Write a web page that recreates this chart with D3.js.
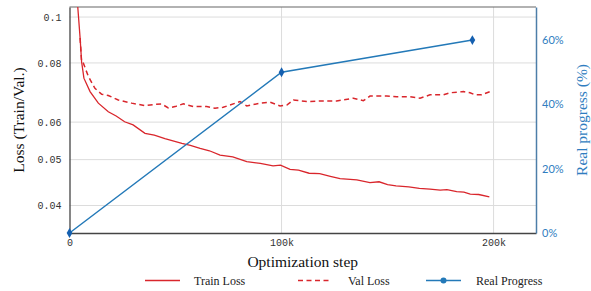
<!DOCTYPE html>
<html>
<head>
<meta charset="utf-8">
<script src="https://cdn.jsdelivr.net/npm/d3@7"></script>
<style>
  body { margin: 0; background: #fff; }
  .grid line { stroke: #dcdcdc; stroke-width: 1; }
  .ax text { font-family: "Liberation Mono", monospace; font-size: 10px; fill: #333; }
  .ax path { stroke: #444; }
  .axR text { font-family: Lato, sans-serif; font-size: 11px; fill: #2f7dc0; }
  .axR path { stroke: #4d7ea8; stroke-width: 1.5; }
  .title { font-family: "Liberation Serif", serif; font-size: 15.5px; }
  .leg { font-family: "Liberation Serif", serif; font-size: 12px; fill: #222; }
</style>
</head>
<body>
<svg id="chart"></svg>
<script>
// train loss (steps in k)
const trainStep = [3.0, 3.9, 5, 5.7, 6.8, 9.7, 13.6, 18.3, 22, 26, 30, 35.6, 40, 45, 53, 57, 61.6, 66, 71, 77, 83.6, 90, 96, 99.5, 104, 108, 113, 118, 123, 127.6, 135.5, 141.7, 146, 150, 154, 160, 165, 170, 174.8, 178, 182.6, 186, 189, 193, 198];
const trainLoss = [0.14, 0.105, 0.0903, 0.0805, 0.0743, 0.0696, 0.0658, 0.0631, 0.0618, 0.0601, 0.0592, 0.0568, 0.0563, 0.0554, 0.0541, 0.0536, 0.0528, 0.0522, 0.0511, 0.0507, 0.0495, 0.0491, 0.0485, 0.0487, 0.0477, 0.0475, 0.0468, 0.0467, 0.0461, 0.0456, 0.0453, 0.0447, 0.0449, 0.0443, 0.0440, 0.0438, 0.0435, 0.0433, 0.0431, 0.0432, 0.0428, 0.0427, 0.0423, 0.0422, 0.0417];

const valStep = [5, 5.7, 6.5, 8.9, 12.0, 15.2, 18.3, 23.0, 29.3, 35.6, 40.3, 43.5, 46.6, 49.8, 53.7, 58.4, 64.7, 68.6, 72.5, 75.7, 80.4, 83.6, 89.9, 94.6, 99.3, 102.5, 105.6, 111.9, 118.2, 126.0, 133.9, 138.6, 141.7, 149.6, 154.3, 160.6, 165.3, 170.0, 176.3, 179.5, 185.8, 188.9, 191.3, 194.4, 198.3];
const valLoss = [0.0903, 0.0805, 0.080, 0.0749, 0.0707, 0.0687, 0.0683, 0.0668, 0.0658, 0.0650, 0.0654, 0.0655, 0.0643, 0.0647, 0.0656, 0.0647, 0.0647, 0.0642, 0.0645, 0.0652, 0.0663, 0.0649, 0.0658, 0.0661, 0.0649, 0.0652, 0.0668, 0.0663, 0.0665, 0.0665, 0.0674, 0.0666, 0.0681, 0.0681, 0.0679, 0.0679, 0.0674, 0.0685, 0.0685, 0.0692, 0.0696, 0.0692, 0.0685, 0.0685, 0.0696];

const progStep = [0, 100, 190];
const progPct = [0, 50, 60];

const yTicks = [0.04, 0.05, 0.06, 0.08, 0.1];
const yLabels = ["0.04", "0.05", "0.06", "0.08", "0.1"];
const xTicks = [0, 100, 200];
const xLabels = ["0", "100k", "200k"];
const rTicks = [0, 20, 40, 60];
const rLabels = ["0%", "20%", "40%", "60%"];

const red = "#d9262c", blue = "#2379b8";

const W = 591, H = 291;
const margin = { top: 7, left: 69.5, right: 55, bottom: 58 };
const width = W - margin.left - margin.right;
const height = H - margin.top - margin.bottom;

const svg = d3.select("#chart").attr("width", W).attr("height", H);
const g = svg.append("g").attr("transform", `translate(${margin.left},${margin.top})`);

const x = d3.scaleLinear().domain([0, 220]).range([0, width]);
const y = d3.scaleLog().domain([0.035, 0.105]).range([height, 0]);
const yR = d3.scaleLinear().domain([0, 70.3]).range([height, 0]);

svg.append("defs").append("clipPath").attr("id", "clip")
  .append("rect").attr("width", width).attr("height", height);

// grid
g.append("g").attr("class", "grid")
  .selectAll("line").data(yTicks).join("line")
    .attr("x1", 0).attr("x2", width)
    .attr("y1", d => y(d)).attr("y2", d => y(d));
g.append("g").attr("class", "grid")
  .selectAll("line").data(xTicks.slice(1)).join("line")
    .attr("x1", d => x(d)).attr("x2", d => x(d))
    .attr("y1", 0).attr("y2", height);

// top frame
g.append("line").attr("x1", 0).attr("x2", width).attr("y1", 0).attr("y2", 0)
  .attr("stroke", "#666").attr("stroke-width", 1.2);

// axes
g.append("g").attr("class", "ax")
  .call(d3.axisLeft(y).tickValues(yTicks).tickFormat((d, i) => yLabels[i]).tickSize(0).tickPadding(8))
  .call(a => a.select(".domain").attr("stroke-width", 1.3));
g.append("g").attr("class", "ax").attr("transform", `translate(0,${height})`)
  .call(d3.axisBottom(x).tickValues(xTicks).tickFormat((d, i) => xLabels[i]).tickSize(0).tickPadding(6))
  .call(a => a.select(".domain").attr("stroke-width", 1.3));
g.append("g").attr("class", "axR").attr("transform", `translate(${width},0)`)
  .call(d3.axisRight(yR).tickValues(rTicks).tickFormat((d, i) => rLabels[i]).tickSize(0).tickPadding(6));

// lines
const trainData = trainStep.map((s, i) => [s, trainLoss[i]]);
const valData = valStep.map((s, i) => [s, valLoss[i]]);
const progData = progStep.map((s, i) => [s, progPct[i]]);

const lossLine = d3.line().x(d => x(d[0])).y(d => y(d[1]));
const progLine = d3.line().x(d => x(d[0])).y(d => yR(d[1]));

const plot = g.append("g").attr("clip-path", "url(#clip)");
plot.append("path").datum(trainData)
  .attr("fill", "none").attr("stroke", red).attr("stroke-width", 1.3)
  .attr("d", lossLine);
plot.append("path").datum(valData)
  .attr("fill", "none").attr("stroke", red).attr("stroke-width", 1.5)
  .attr("stroke-dasharray", "5,3.5")
  .attr("d", lossLine);

g.append("path").datum(progData)
  .attr("fill", "none").attr("stroke", blue).attr("stroke-width", 1.5)
  .attr("d", progLine);
g.selectAll(".mk").data(progData).join("path")
  .attr("class", "mk")
  .attr("transform", d => `translate(${x(d[0])},${yR(d[1])})`)
  .attr("d", d3.symbol(d3.symbolDiamond, 28))
  .attr("fill", "#1560b0");

// titles
svg.append("text").attr("class", "title")
  .attr("transform", `translate(24,${margin.top + height / 2}) rotate(-90)`)
  .attr("text-anchor", "middle").attr("fill", "#111")
  .text("Loss (Train/Val.)");
svg.append("text").attr("class", "title")
  .attr("transform", `translate(587,${margin.top + height / 2}) rotate(-90)`)
  .attr("text-anchor", "middle").attr("fill", "#2f7dc0")
  .text("Real progress (%)");
svg.append("text").attr("class", "title")
  .attr("x", margin.left + width / 2).attr("y", 267)
  .attr("text-anchor", "middle").attr("fill", "#111")
  .text("Optimization step");

// legend
const legY = 280.5;
const leg = svg.append("g");
leg.append("line").attr("x1", 145).attr("x2", 180).attr("y1", legY).attr("y2", legY)
  .attr("stroke", red).attr("stroke-width", 1.3);
leg.append("text").attr("class", "leg").attr("x", 194).attr("y", legY + 4).text("Train Loss");
leg.append("line").attr("x1", 298).attr("x2", 331).attr("y1", legY).attr("y2", legY)
  .attr("stroke", red).attr("stroke-width", 1.5).attr("stroke-dasharray", "5,3.5");
leg.append("text").attr("class", "leg").attr("x", 348).attr("y", legY + 4).text("Val Loss");
leg.append("line").attr("x1", 426).attr("x2", 461).attr("y1", legY).attr("y2", legY)
  .attr("stroke", blue).attr("stroke-width", 1.5);
leg.append("circle").attr("cx", 443.5).attr("cy", legY).attr("r", 3).attr("fill", blue);
leg.append("text").attr("class", "leg").attr("x", 476).attr("y", legY + 4).text("Real Progress");
</script>
</body>
</html>
